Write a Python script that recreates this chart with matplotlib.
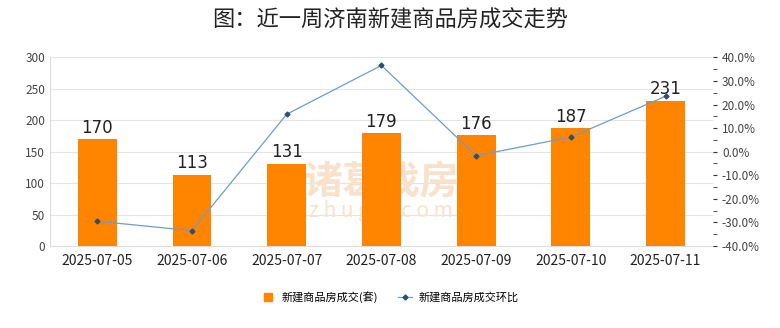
import matplotlib.pyplot as plt
import numpy as np
from matplotlib.lines import Line2D
from matplotlib.ticker import MultipleLocator, FuncFormatter

plt.rcParams['font.family'] = ['Noto Sans CJK SC', 'DejaVu Sans']

dates = ['2025-07-05', '2025-07-06', '2025-07-07', '2025-07-08',
         '2025-07-09', '2025-07-10', '2025-07-11']
deals = [170, 113, 131, 179, 176, 187, 231]
mom = [-29.5, -33.5, 15.9, 36.6, -1.7, 6.2, 23.5]

fig = plt.figure(figsize=(7.8, 3.28), dpi=100)
ax = fig.add_axes([0.064, 0.25, 0.85, 0.575])
ax2 = ax.twinx()

x = np.arange(len(dates))
ax.bar(x, deals, width=0.41, color='#FF8400', zorder=3)
for xi, v in zip(x, deals):
    ax.text(xi, v + 4, str(v), ha='center', va='bottom', fontsize=12,
            family='DejaVu Sans', color='#222222', zorder=4)

ax.set_ylim(0, 300)
ax.set_xlim(-0.5, len(dates) - 0.5)
ax.yaxis.set_major_locator(MultipleLocator(50))
ax.grid(axis='y', color='#e4e4e4', linewidth=0.8, zorder=0)
ax.set_axisbelow(True)
ax.set_xticks(x)
ax.set_xticklabels(dates)
ax.tick_params(axis='x', length=0, labelsize=10, pad=6, labelcolor='#222222')
ax.tick_params(axis='y', length=0, labelsize=8.5, labelcolor='#444444')
for s in ['top', 'right']:
    ax.spines[s].set_visible(False)
for s in ['left', 'bottom']:
    ax.spines[s].set_color('#dddddd')

ax2.plot(x, mom, color='#6f9ccc', linewidth=0.9, marker='D',
         markersize=2.5, markerfacecolor='#2f4f6f',
         markeredgecolor='#2f4f6f', zorder=5)
ax2.set_ylim(-40, 40)
ax2.yaxis.set_major_locator(MultipleLocator(10))
ax2.yaxis.set_minor_locator(MultipleLocator(5))
ax2.yaxis.set_major_formatter(FuncFormatter(lambda v, p: f'{v:.1f}%'))
ax2.tick_params(axis='y', which='both', length=3, color='#333333',
                labelsize=8.5, labelcolor='#444444', direction='out')
for s in ax2.spines.values():
    s.set_visible(False)

# faint watermark, kept clear of the value labels
ax.text(3, 100, '诸葛找房', ha='center', va='center', fontsize=28,
        color='#f8e2cc', fontweight='bold', zorder=1)
ax.text(3, 55, 'z h u g e . c o m', ha='center', va='center', fontsize=15,
        color='#f8e2cc', zorder=1)

fig.suptitle('图：近一周济南新建商品房成交走势', y=0.975, fontsize=16,
             color='#222222')

handles = [
    Line2D([], [], linestyle='none', marker='s', markersize=6,
           color='#FF8400'),
    Line2D([], [], color='#6f9ccc', linewidth=0.9, marker='D',
           markersize=2.5, markerfacecolor='#2f4f6f',
           markeredgecolor='#2f4f6f'),
]
fig.legend(handles, ['新建商品房成交(套)', '新建商品房成交环比'],
           loc='center', bbox_to_anchor=(0.5, 0.095), ncol=2, frameon=False,
           fontsize=8, handlelength=1.2, handletextpad=0.6,
           columnspacing=1.8)

fig.savefig('out.png', dpi=100)
